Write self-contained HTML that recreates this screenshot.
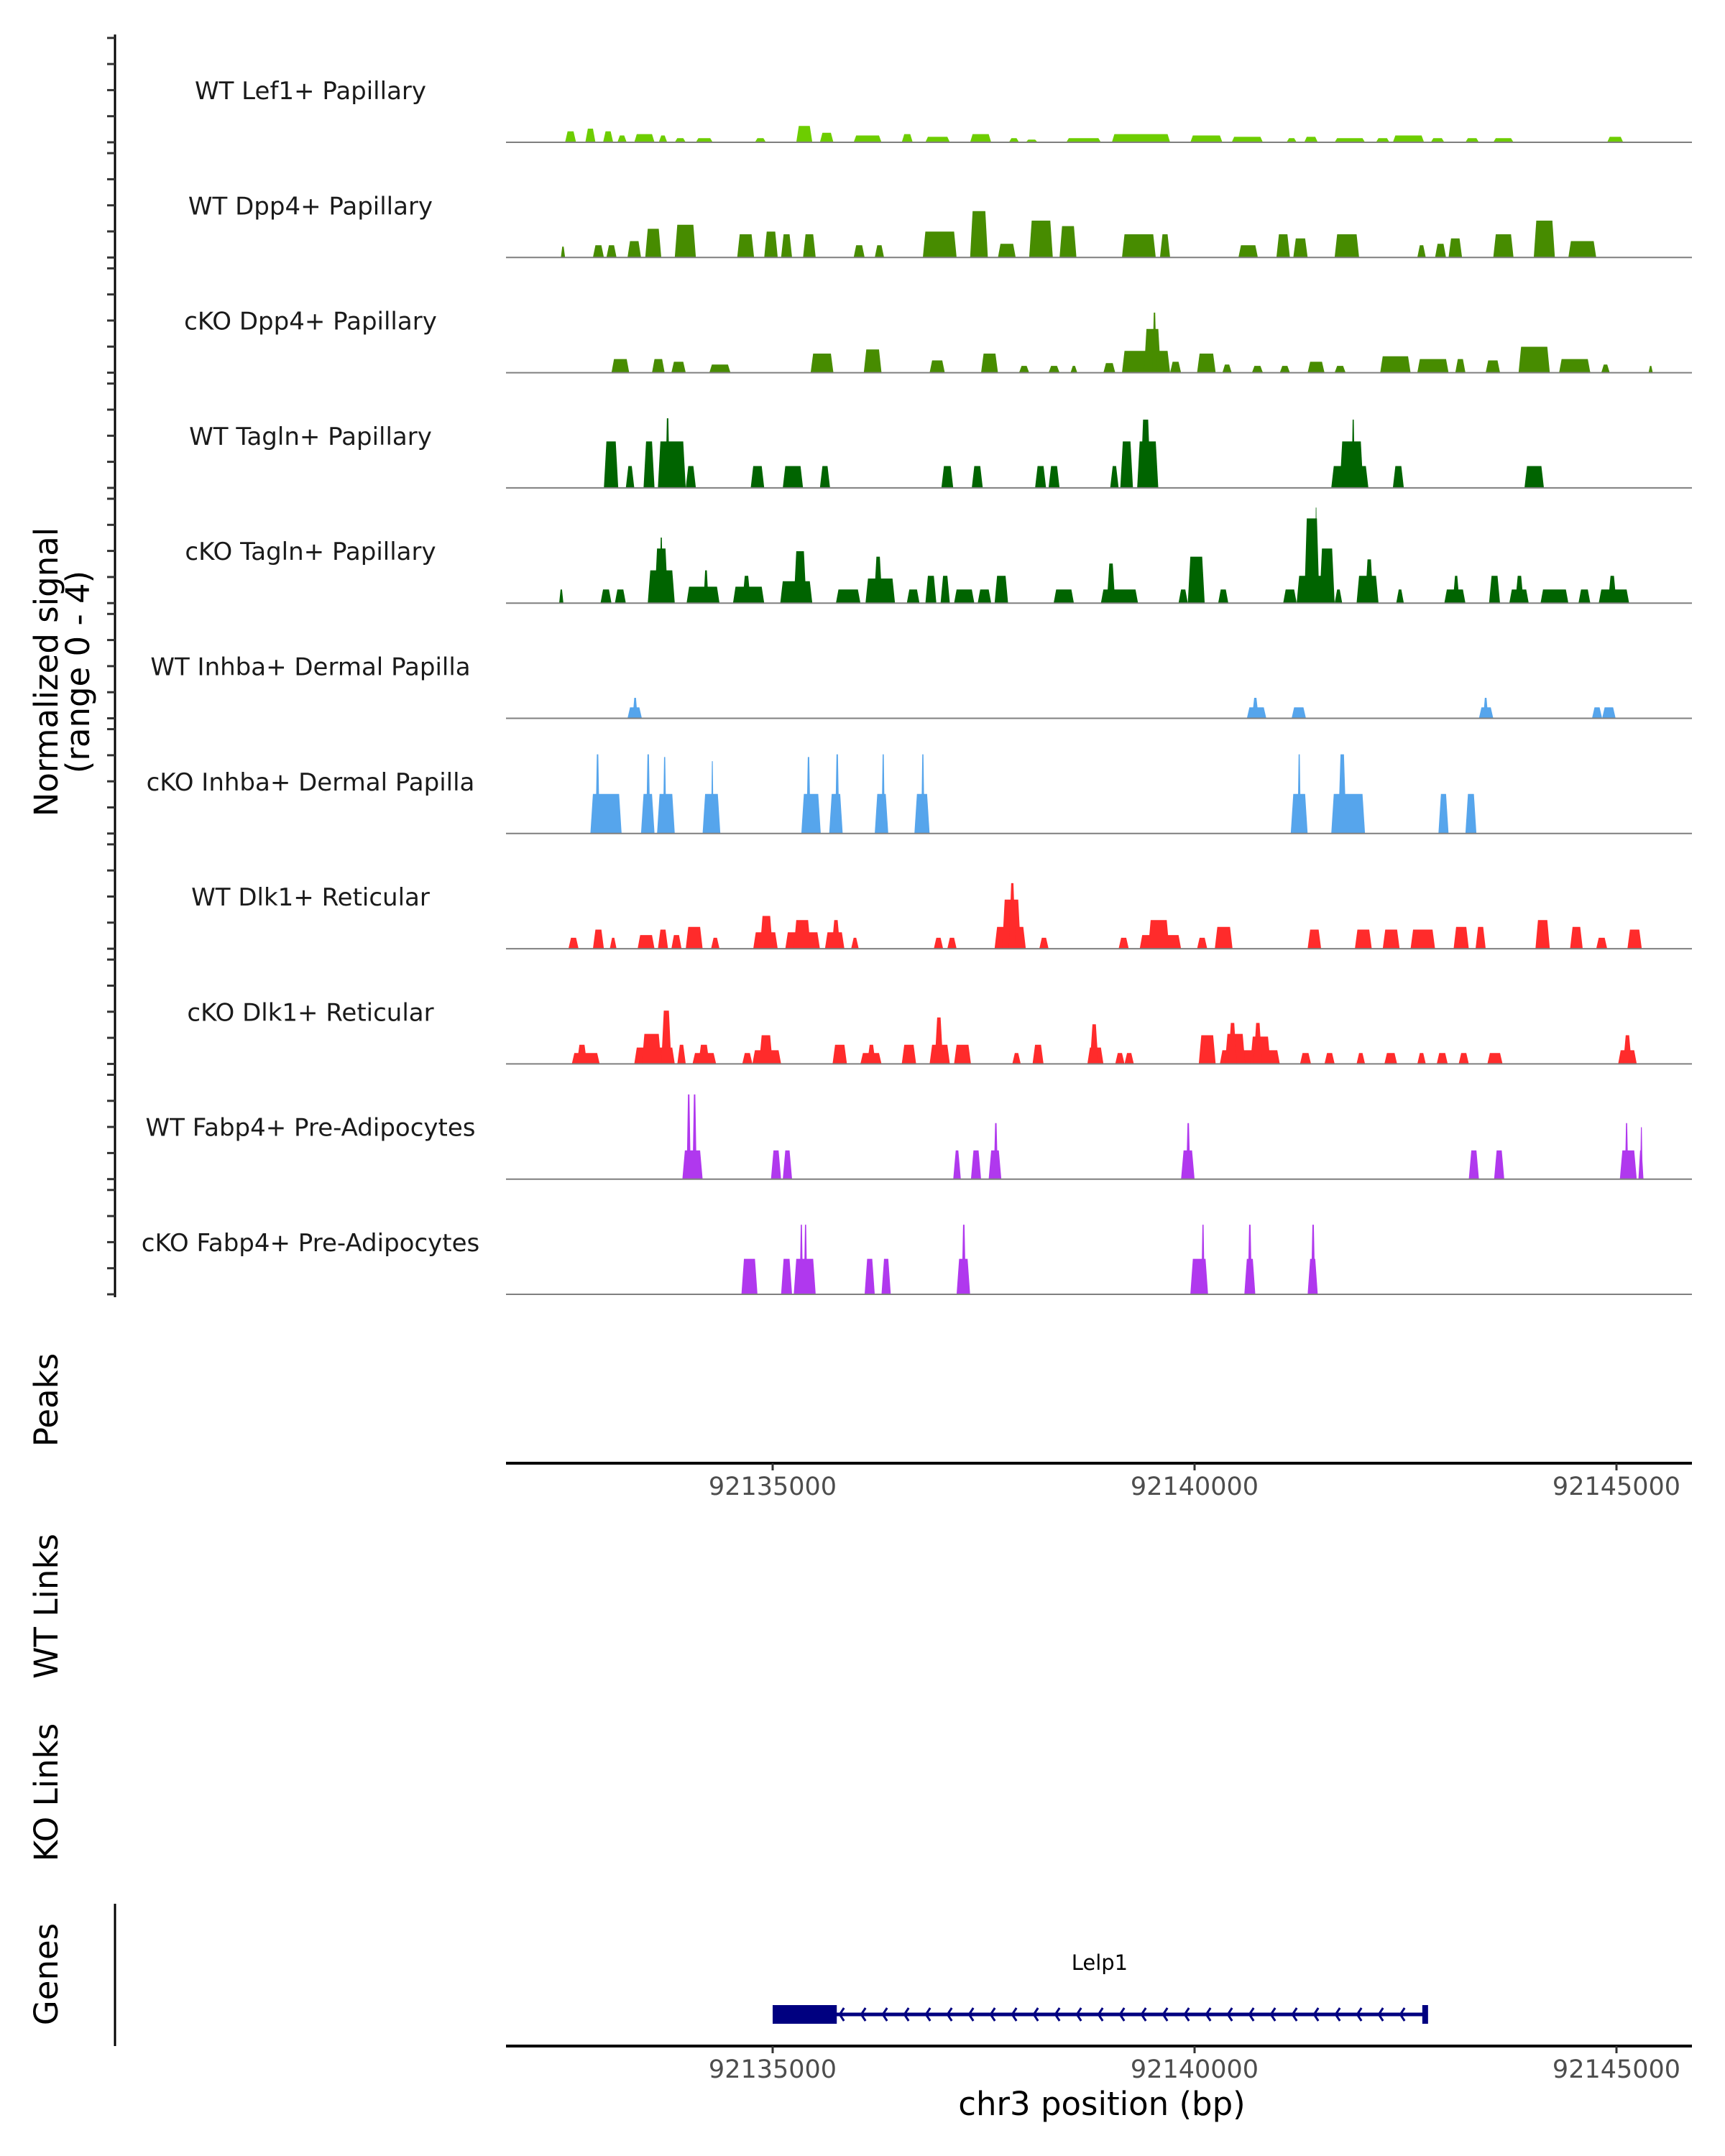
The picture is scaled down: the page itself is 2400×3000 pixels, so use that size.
<!DOCTYPE html>
<html><head><meta charset="utf-8"><style>
html,body{margin:0;padding:0;background:#fff}
svg{display:block;font-family:"DejaVu Sans","Liberation Sans",sans-serif}
</style></head><body>
<svg id="chart" width="2400" height="3000" viewBox="0 0 2400 3000" xmlns="http://www.w3.org/2000/svg">
<g id="left-axis"></g>
<g id="tracks"></g>
<text transform="translate(80,935) rotate(-90)" text-anchor="middle" font-size="45" fill="#000">Normalized signal</text>
<text transform="translate(124,935) rotate(-90)" text-anchor="middle" font-size="45" fill="#000">(range 0 - 4)</text>
<text transform="translate(80,1948) rotate(-90)" text-anchor="middle" font-size="45">Peaks</text>
<text transform="translate(80,2235) rotate(-90)" text-anchor="middle" font-size="45">WT Links</text>
<text transform="translate(80,2494) rotate(-90)" text-anchor="middle" font-size="45">KO Links</text>
<text transform="translate(80,2747) rotate(-90)" text-anchor="middle" font-size="45">Genes</text>
<line x1="160" y1="2649" x2="160" y2="2847" stroke="#000" stroke-width="3"/>
<g id="xaxes"></g>
<g id="gene"></g>
<text x="1533" y="2943" text-anchor="middle" font-size="45">chr3 position (bp)</text>
</svg>
<script>
const NS="http://www.w3.org/2000/svg";
const BASE=92130000;
const trackNames=["WT Lef1+ Papillary","WT Dpp4+ Papillary","cKO Dpp4+ Papillary","WT Tagln+ Papillary","cKO Tagln+ Papillary","WT Inhba+ Dermal Papilla","cKO Inhba+ Dermal Papilla","WT Dlk1+ Reticular","cKO Dlk1+ Reticular","WT Fabp4+ Pre-Adipocytes","cKO Fabp4+ Pre-Adipocytes"];
const trackColors=["#6dcd00","#478c00","#478c00","#006400","#006400","#56a5ec","#56a5ec","#ff2b2b","#ff2b2b","#b038ee","#b038ee"];
// peaks: [start kb offset, end kb offset, signal]
const lef1WT=[[2.54,2.67,.4],[2.78,2.90,.5],[2.99,3.11,.4],[3.16,3.27,.25],[3.36,3.60,.3],[3.65,3.75,.25],[3.84,3.97,.15],[4.09,4.29,.15],[4.79,4.92,.15],[5.28,5.47,.6],[5.56,5.72,.35],[5.96,6.29,.25],[6.53,6.66,.3],[6.81,7.10,.2],[7.34,7.59,.3],[7.80,7.92,.15],[8.00,8.14,.1],[8.48,8.89,.15],[9.02,9.71,.3],[9.95,10.33,.25],[10.44,10.81,.2],[11.09,11.21,.15],[11.30,11.46,.2],[11.66,12.02,.15],[12.15,12.31,.15],[12.35,12.72,.25],[12.80,12.96,.15],[13.21,13.37,.15],[13.54,13.78,.15],[14.89,15.08,.2]];
const dpp4WT=[[2.49,2.54,.4],[2.87,3.00,.45],[3.03,3.15,.45],[3.28,3.44,.6],[3.49,3.68,1.05],[3.84,4.09,1.2],[4.58,4.78,.85],[4.90,5.06,.95],[5.10,5.23,.85],[5.36,5.51,.85],[5.96,6.09,.45],[6.21,6.32,.45],[6.78,7.18,.95],[7.34,7.55,1.7],[7.67,7.88,.5],[8.04,8.32,1.35],[8.40,8.60,1.15],[9.14,9.54,.85],[9.59,9.71,.85],[10.52,10.75,.45],[10.97,11.13,.85],[11.17,11.34,.7],[11.66,11.95,.85],[12.64,12.74,.45],[12.85,12.98,.5],[13.01,13.17,.7],[13.54,13.78,.85],[14.02,14.27,1.35],[14.43,14.76,.6]];
const dpp4KO=[[3.09,3.30,.5],[3.57,3.72,.5],[3.80,3.97,.4],[4.25,4.50,.3],[5.45,5.72,.7],[6.08,6.29,.85],[6.86,7.04,.45],[7.47,7.67,.7],[7.92,8.04,.25],[8.27,8.40,.25],[8.53,8.61,.25],[8.92,9.06,.35],[9.14,9.71,.8],[9.40,9.60,1.6],[9.50,9.55,2.2],[9.71,9.84,.4],[10.03,10.25,.7],[10.33,10.44,.3],[10.68,10.81,.25],[11.01,11.13,.25],[11.34,11.54,.4],[11.66,11.79,.25],[12.20,12.56,.6],[12.64,13.01,.5],[13.09,13.21,.5],[13.45,13.62,.45],[13.84,14.21,.95],[14.32,14.69,.5],[14.82,14.92,.3],[15.38,15.43,.25]];
const taglnWT=[[3.00,3.17,1.7],[3.26,3.36,.8],[3.47,3.60,1.7],[3.64,3.97,1.7],[3.73,3.78,2.55],[3.97,4.09,.8],[4.74,4.90,.8],[5.12,5.36,.8],[5.56,5.68,.8],[7.00,7.14,.8],[7.36,7.49,.8],[8.11,8.24,.8],[8.27,8.40,.8],[9.00,9.10,.8],[9.12,9.27,1.7],[9.32,9.57,1.7],[9.36,9.48,2.5],[11.62,12.06,.8],[11.72,12.00,1.7],[11.86,11.90,2.5],[12.35,12.48,.8],[13.91,14.14,.8]];
const taglnKO=[[2.47,2.52,.5],[2.96,3.09,.5],[3.13,3.26,.5],[3.52,3.84,1.2],[3.60,3.76,2.0],[3.66,3.70,2.4],[3.98,4.37,.6],[4.18,4.24,1.2],[4.53,4.90,.6],[4.64,4.74,1.0],[5.09,5.47,.8],[5.25,5.40,1.9],[5.75,6.04,.5],[6.10,6.45,.9],[6.20,6.30,1.7],[6.59,6.74,.5],[6.81,6.94,1.0],[6.99,7.10,1.0],[7.15,7.39,.5],[7.43,7.59,.5],[7.63,7.79,1.0],[8.33,8.57,.5],[8.89,9.33,.5],[8.96,9.06,1.45],[9.81,9.92,.5],[9.92,10.12,1.7],[10.28,10.40,.5],[11.05,11.21,.5],[11.21,11.66,1.0],[11.30,11.48,3.1],[11.43,11.45,3.5],[11.48,11.66,2.0],[11.66,11.75,.5],[11.92,12.18,1.0],[12.02,12.12,1.6],[12.39,12.48,.5],[12.96,13.21,.5],[13.06,13.14,1.0],[13.49,13.62,1.0],[13.73,13.96,.5],[13.80,13.90,1.0],[14.10,14.43,.5],[14.55,14.69,.5],[14.79,15.15,.5],[14.90,15.00,1.0]];
const inhbaWT=[[3.28,3.45,.4],[3.34,3.40,.75],[10.62,10.85,.4],[10.68,10.76,.75],[11.15,11.32,.4],[13.37,13.54,.4],[13.42,13.48,.75],[14.71,14.83,.4],[14.83,14.99,.4]];
const inhbaKO=[[2.84,3.21,1.45],[2.90,2.95,2.9],[3.44,3.60,1.45],[3.50,3.55,2.9],[3.63,3.84,1.45],[3.70,3.74,2.8],[4.17,4.38,1.45],[4.27,4.30,2.65],[5.34,5.57,1.45],[5.40,5.45,2.8],[5.67,5.83,1.45],[5.74,5.79,2.9],[6.21,6.37,1.45],[6.29,6.33,2.9],[6.68,6.86,1.45],[6.76,6.80,2.9],[11.14,11.34,1.45],[11.22,11.26,2.9],[11.62,12.02,1.45],[11.70,11.80,2.9],[12.89,13.01,1.45],[13.21,13.34,1.45]];
const dlk1WT=[[2.58,2.70,.4],[2.87,3.00,.7],[3.07,3.15,.4],[3.40,3.60,.5],[3.64,3.76,.7],[3.80,3.92,.5],[3.97,4.17,.8],[4.27,4.37,.4],[4.77,5.06,.6],[4.85,5.00,1.2],[5.15,5.56,.6],[5.25,5.45,1.05],[5.62,5.85,.6],[5.70,5.80,1.05],[5.93,6.02,.4],[6.91,7.02,.4],[7.07,7.18,.4],[7.63,8.00,.8],[7.72,7.94,1.8],[7.80,7.88,2.4],[8.16,8.27,.4],[9.10,9.22,.4],[9.35,9.84,.5],[9.45,9.70,1.05],[10.03,10.15,.4],[10.24,10.45,.8],[11.34,11.50,.7],[11.90,12.10,.7],[12.23,12.43,.7],[12.56,12.85,.7],[13.07,13.25,.8],[13.33,13.45,.8],[14.04,14.21,1.05],[14.45,14.60,.8],[14.76,14.89,.4],[15.13,15.30,.7]];
const dlk1KO=[[2.62,2.95,.4],[2.68,2.80,.7],[3.36,3.84,.6],[3.45,3.68,1.1],[3.68,3.80,1.95],[3.87,3.97,.7],[4.05,4.33,.4],[4.12,4.25,.7],[4.64,4.76,.4],[4.76,5.10,.5],[4.84,5.00,1.05],[5.71,5.88,.7],[6.04,6.29,.4],[6.12,6.22,.7],[6.53,6.70,.7],[6.86,7.10,.7],[6.92,7.02,1.7],[7.15,7.35,.7],[7.84,7.94,.4],[8.08,8.21,.7],[8.73,8.92,.6],[8.76,8.86,1.45],[9.06,9.17,.4],[9.17,9.28,.4],[10.05,10.25,1.05],[10.30,11.01,.5],[10.36,10.60,1.1],[10.40,10.50,1.5],[10.66,10.90,1.0],[10.70,10.80,1.5],[11.25,11.38,.4],[11.54,11.66,.4],[11.92,12.02,.4],[12.25,12.40,.4],[12.64,12.74,.4],[12.87,13.00,.4],[13.13,13.25,.4],[13.47,13.65,.4],[15.02,15.24,.5],[15.08,15.18,1.05]];
const fabp4WT=[[3.93,4.17,1.05],[3.98,4.03,3.1],[4.05,4.10,3.1],[4.98,5.10,1.05],[5.12,5.23,1.05],[7.14,7.23,1.05],[7.35,7.47,1.05],[7.56,7.71,1.05],[7.62,7.67,2.05],[9.84,10.00,1.05],[9.90,9.95,2.05],[13.25,13.37,1.05],[13.55,13.67,1.05],[15.04,15.24,1.05],[15.10,15.14,2.05],[15.26,15.32,1.05],[15.28,15.31,1.9]];
const fabp4KO=[[4.63,4.82,1.3],[5.10,5.23,1.3],[5.25,5.51,1.3],[5.32,5.36,2.55],[5.37,5.41,2.55],[6.09,6.21,1.3],[6.29,6.40,1.3],[7.18,7.34,1.3],[7.24,7.29,2.55],[9.95,10.16,1.3],[10.08,10.12,2.55],[10.59,10.72,1.3],[10.63,10.68,2.55],[11.34,11.46,1.3],[11.38,11.43,2.55]];
const trackData=[lef1WT,dpp4WT,dpp4KO,taglnWT,taglnKO,inhbaWT,inhbaKO,dlk1WT,dlk1KO,fabp4WT,fabp4KO];
const xTicks=[92135000,92140000,92145000];
const geneStart=92135000, geneEnd=92142750, cdsEnd=92135760;

const X0=704, X1=2354;
const x=bp=>1075+(bp-92135000)/1000*117.4;
const xk=k=>x(BASE+k*1000);
const trackBase=i=>198+i*160.3;
const yv=(i,v)=>trackBase(i)-v*38;

const axis=document.getElementById('left-axis');
const ax=document.createElementNS(NS,'line');
ax.setAttribute('x1',160);ax.setAttribute('x2',160);ax.setAttribute('y1',48);ax.setAttribute('y2',1805);
ax.setAttribute('stroke','#000');ax.setAttribute('stroke-width',3);


axis.appendChild(ax);

const tracks=document.getElementById('tracks');
trackNames.forEach((nm,i)=>{
  const b=trackBase(i);
  for(let t=0;t<=4;t++){
    const tk=document.createElementNS(NS,'line');
    const ty=b-t*36.3;
    tk.setAttribute('x1',149);tk.setAttribute('x2',160);tk.setAttribute('y1',ty);tk.setAttribute('y2',ty);
    tk.setAttribute('stroke','#333');tk.setAttribute('stroke-width',3);
    
    
    axis.appendChild(tk);
  }
  const g=document.createElementNS(NS,'g');
  
  
  const lbl=document.createElementNS(NS,'text');
  lbl.setAttribute('x',432);lbl.setAttribute('y',b-60);lbl.setAttribute('text-anchor','middle');
  lbl.setAttribute('font-size','34');lbl.setAttribute('fill','#1a1a1a');
  lbl.textContent=nm;
  
  
  g.appendChild(lbl);
  trackData[i].forEach(p=>{
    const s=xk(p[0]),e=xk(p[1]),yt=yv(i,p[2]);
    const r=Math.min(3.5,(e-s)/3);
    const poly=document.createElementNS(NS,'polygon');
    poly.setAttribute('points',`${s},${b} ${s+r},${yt} ${e-r},${yt} ${e},${b}`);
    poly.setAttribute('fill',trackColors[i]);
    
    
    g.appendChild(poly);
  });
  const bl=document.createElementNS(NS,'line');
  bl.setAttribute('x1',X0);bl.setAttribute('x2',X1);bl.setAttribute('y1',b);bl.setAttribute('y2',b);
  bl.setAttribute('stroke','#7f7f7f');bl.setAttribute('stroke-width',2);
  
  
  g.appendChild(bl);
  tracks.appendChild(g);
});

const xaxes=document.getElementById('xaxes');
[[2036,2068],[2847,2879]].forEach(([ay,ly])=>{
  const l=document.createElementNS(NS,'line');
  l.setAttribute('x1',X0);l.setAttribute('x2',X1);l.setAttribute('y1',ay);l.setAttribute('y2',ay);
  l.setAttribute('stroke','#000');l.setAttribute('stroke-width',4);
  
  
  xaxes.appendChild(l);
  xTicks.forEach(v=>{
    const t=document.createElementNS(NS,'line');
    t.setAttribute('x1',x(v));t.setAttribute('x2',x(v));t.setAttribute('y1',ay);t.setAttribute('y2',ay+10);
    t.setAttribute('stroke','#333');t.setAttribute('stroke-width',3);
    
    
    xaxes.appendChild(t);
    const tx=document.createElementNS(NS,'text');
    tx.setAttribute('x',x(v));tx.setAttribute('y',ly+12);tx.setAttribute('text-anchor','middle');
    tx.setAttribute('font-size','35');tx.setAttribute('fill','#4d4d4d');
    tx.textContent=v;
    
    
    xaxes.appendChild(tx);
  });
});

const gene=document.getElementById('gene');
const gy=2803;
const gl=document.createElementNS(NS,'line');
gl.setAttribute('x1',x(geneStart));gl.setAttribute('x2',x(geneEnd));gl.setAttribute('y1',gy);gl.setAttribute('y2',gy);
gl.setAttribute('stroke','#000080');gl.setAttribute('stroke-width',5);


gene.appendChild(gl);
const box=document.createElementNS(NS,'rect');
box.setAttribute('x',x(geneStart));box.setAttribute('y',gy-13);box.setAttribute('width',x(cdsEnd)-x(geneStart));box.setAttribute('height',26);
box.setAttribute('fill','#000080');


gene.appendChild(box);
const endb=document.createElementNS(NS,'rect');
endb.setAttribute('x',x(geneEnd)-6);endb.setAttribute('y',gy-13);endb.setAttribute('width',8);endb.setAttribute('height',26);
endb.setAttribute('fill','#000080');


gene.appendChild(endb);
for(let cx=x(cdsEnd)+4;cx<x(geneEnd)-15;cx+=30){
  const c=document.createElementNS(NS,'polyline');
  c.setAttribute('points',`${cx+6},${gy-9} ${cx},${gy} ${cx+6},${gy+9}`);
  c.setAttribute('fill','none');c.setAttribute('stroke','#000080');c.setAttribute('stroke-width',3);
  
  
  gene.appendChild(c);
}
const gt=document.createElementNS(NS,'text');
gt.setAttribute('x',(x(geneStart)+x(geneEnd))/2);gt.setAttribute('y',2741);gt.setAttribute('text-anchor','middle');
gt.setAttribute('font-size','29');gt.setAttribute('fill','#000');
gt.textContent='Lelp1';


gene.appendChild(gt);
</script>
</body></html>
